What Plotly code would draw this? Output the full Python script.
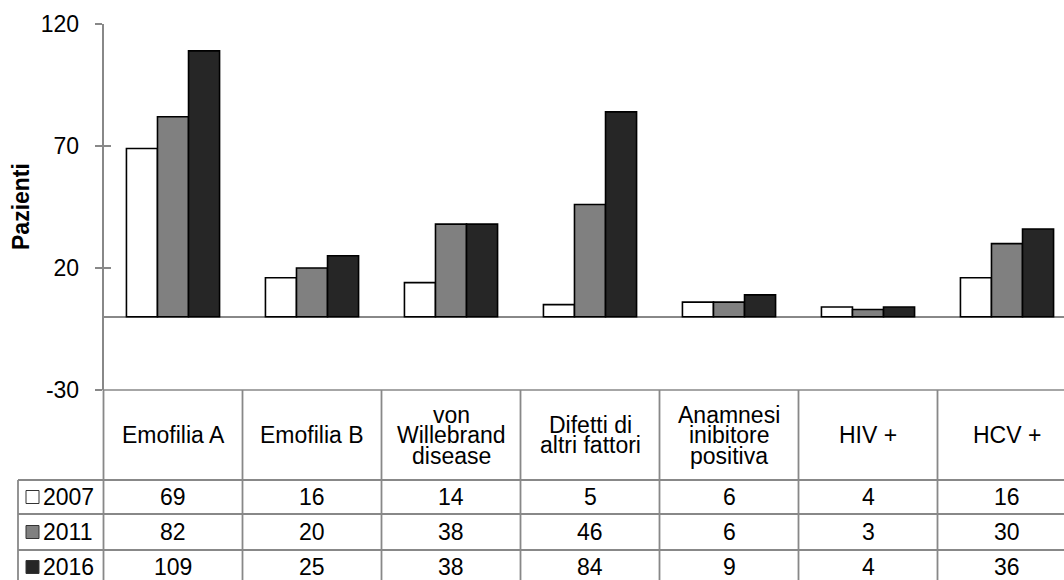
import plotly.graph_objects as go

# ---- data ----
categories = ["Emofilia A", "Emofilia B", "von\nWillebrand\ndisease",
              "Difetti di\naltri fattori", "Anamnesi\ninibitore\npositiva",
              "HIV +", "HCV +"]
years = ["2007", "2011", "2016"]
v2007 = [69, 16, 14, 5, 6, 4, 16]
v2011 = [82, 20, 38, 46, 6, 3, 30]
v2016 = [109, 25, 38, 84, 9, 4, 36]
y_ticks = [-30, 20, 70, 120]
y_title = "Pazienti"

# ---- style / layout ----
colors = ["#ffffff", "#808080", "#262626"]
W, H = 1064, 580
AX_LEFT = 103.5      # px, left edge of plot / table category area
COL_W = 139.0        # px, width of one category column
TOP_PX, BOT_PX = 24, 390
ROW_LINES = [480, 514, 550]
ROW_CENTERS = [497, 532, 567]
HEAD_CENTER = 435
LINE_SP = 20.5
TABLE_LEFT = 18
GRID = "#888888"
FONT = "Liberation Sans, Arial, sans-serif"
FS = 23


def py(p):
    return 1 - p / H


def px(p):
    return p / W


series = [v2007, v2011, v2016]
idx = list(range(len(categories)))

fig = go.Figure()
for name, vals, c in zip(years, series, colors):
    fig.add_trace(go.Bar(x=idx, y=vals, name=name,
                         marker=dict(color=c, line=dict(color="black", width=1.6)),
                         showlegend=False))
fig.add_trace(go.Scatter(x=[None], y=[None], yaxis="y2", showlegend=False,
                         hoverinfo="skip"))

xmax = -0.5 + (W - AX_LEFT) / COL_W

fig.update_layout(
    width=W, height=H, margin=dict(l=0, r=0, t=0, b=0),
    plot_bgcolor="white", paper_bgcolor="white",
    barmode="group", bargap=0.33, bargroupgap=0,
    font=dict(family=FONT, size=FS, color="black"),
    xaxis=dict(domain=[px(AX_LEFT), 1], range=[-0.5, xmax], showticklabels=False,
               showgrid=False, zeroline=False, showline=False, ticks="",
               automargin=False),
    yaxis=dict(domain=[py(BOT_PX), py(TOP_PX)], range=[-30, 120], tickvals=y_ticks,
               ticktext=[str(t) for t in y_ticks],
               ticks="outside", ticklen=7, tickwidth=1.5, tickcolor=GRID,
               showline=True, linecolor=GRID, linewidth=1.5, showgrid=False,
               zeroline=True, zerolinecolor=GRID, zerolinewidth=1.5,
               ticklabelstandoff=11, automargin=False),
    yaxis2=dict(overlaying="y", range=[-30, 120], tickvals=y_ticks, ticks="inside",
                ticklen=7, tickwidth=1.5, tickcolor=GRID, showticklabels=False,
                showgrid=False, zeroline=False, showline=False, automargin=False),
)

shapes = []
annotations = []
# table horizontal lines
shapes.append(dict(type="line", xref="paper", yref="paper", x0=px(AX_LEFT), x1=1,
                   y0=py(BOT_PX), y1=py(BOT_PX), line=dict(color=GRID, width=1.5)))
for r in ROW_LINES:
    shapes.append(dict(type="line", xref="paper", yref="paper", x0=px(TABLE_LEFT), x1=1,
                       y0=py(r), y1=py(r), line=dict(color=GRID, width=1.8)))
# table vertical lines
shapes.append(dict(type="line", xref="paper", yref="paper", x0=px(TABLE_LEFT),
                   x1=px(TABLE_LEFT), y0=py(ROW_LINES[0]), y1=0,
                   line=dict(color=GRID, width=1.8)))
for k in range(len(categories) + 1):
    xb = AX_LEFT + k * COL_W
    if xb > W:
        continue
    shapes.append(dict(type="line", xref="paper", yref="paper", x0=px(xb), x1=px(xb),
                       y0=py(BOT_PX), y1=0, line=dict(color=GRID, width=1.8)))

# header texts
for i, cat in enumerate(categories):
    lines = cat.split("\n")
    n = len(lines)
    for j, ln in enumerate(lines):
        yc = HEAD_CENTER + (j - (n - 1) / 2) * LINE_SP
        annotations.append(dict(x=i, y=py(yc), xref="x", yref="paper", text=ln,
                                showarrow=False, xanchor="center", yanchor="middle",
                                borderpad=0, font=dict(size=FS)))
# values + legend keys
for r, (name, vals, c) in enumerate(zip(years, series, colors)):
    yc = ROW_CENTERS[r]
    for i, v in enumerate(vals):
        annotations.append(dict(x=i, y=py(yc), xref="x", yref="paper", text=str(v),
                                showarrow=False, xanchor="center", yanchor="middle",
                                font=dict(size=FS)))
    shapes.append(dict(type="rect", xref="paper", yref="paper", x0=px(26), x1=px(39),
                       y0=py(yc + 6.5), y1=py(yc - 6.5), fillcolor=c,
                       line=dict(color="#333333", width=1)))
    annotations.append(dict(x=px(41), y=py(yc), xref="paper", yref="paper", text=name,
                            showarrow=False, xanchor="left", yanchor="middle",
                            font=dict(size=FS)))

# y title
annotations.append(dict(x=px(21), y=py((TOP_PX + BOT_PX) / 2), xref="paper", yref="paper",
                        text="<b>%s</b>" % y_title, textangle=-90, showarrow=False,
                        xanchor="center", yanchor="middle", font=dict(size=FS)))

fig.update_layout(shapes=shapes, annotations=annotations)

PAGE_FIX = (
    "document.documentElement.style.margin='0';"
    "document.body.style.margin='0';"
    "document.body.style.overflow='hidden';"
    "var d=document.getElementById('{plot_id}');"
    "d.style.position='fixed';d.style.left='0px';d.style.top='0px';"
)
fig.write_html("out.html", post_script=PAGE_FIX, config={"displayModeBar": False})
